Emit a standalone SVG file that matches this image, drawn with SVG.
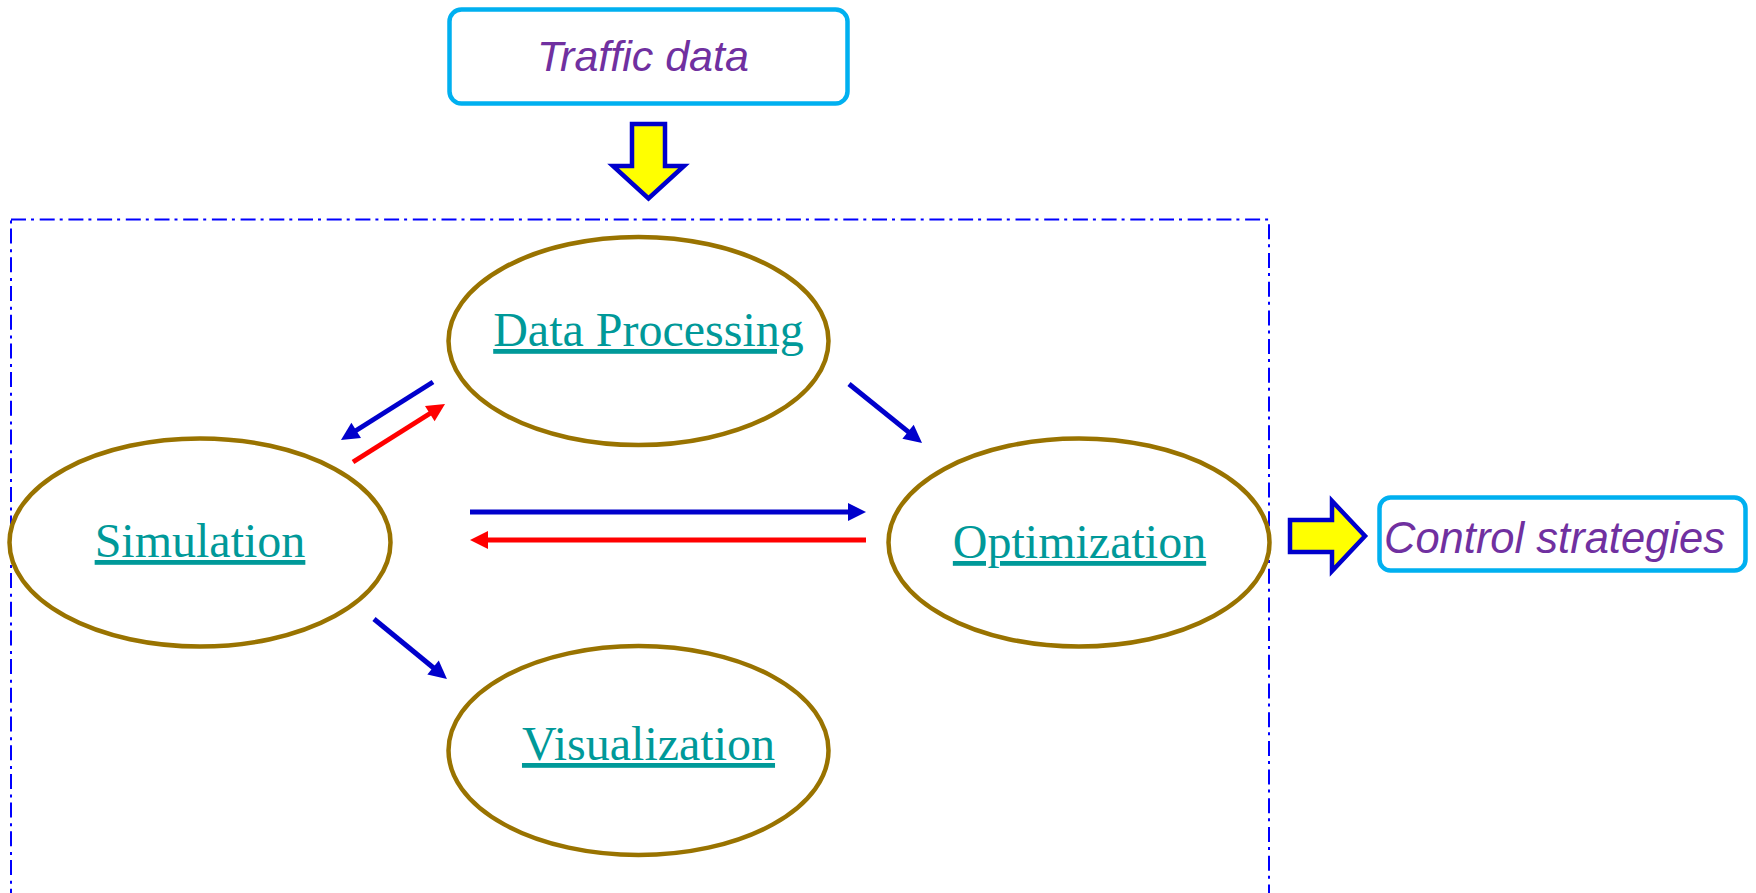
<svg xmlns="http://www.w3.org/2000/svg" width="1756" height="893" viewBox="0 0 1756 893">
  <style>
    .ell { fill: #FFFFFF; stroke: #997300; stroke-width: 4.5; }
    .lbl { font-family: "Liberation Serif", "Times New Roman", serif; font-size: 48px; fill: #009999; text-decoration: underline; text-anchor: middle; }
    .box { fill: #FFFFFF; stroke: #00B0F0; stroke-width: 4.5; }
    .io { font-family: "Liberation Sans", Arial, sans-serif; font-size: 43px; font-style: italic; fill: #7030A0; }
    .fat { fill: #FFFF00; stroke: #0000CC; stroke-width: 4.5; stroke-linejoin: miter; }
    .blue { stroke: #0000CC; stroke-width: 5; fill: none; marker-end: url(#hb); }
    .red { stroke: #FF0000; stroke-width: 5; fill: none; marker-end: url(#hr); }
  </style>
  <defs>
    <marker id="hb" markerUnits="userSpaceOnUse" markerWidth="18" markerHeight="18" refX="2" refY="9" orient="auto" overflow="visible">
      <path d="M0,0 L18,9 L0,18 Z" fill="#0000CC"/>
    </marker>
    <marker id="hr" markerUnits="userSpaceOnUse" markerWidth="18" markerHeight="18" refX="2" refY="9" orient="auto" overflow="visible">
      <path d="M0,0 L18,9 L0,18 Z" fill="#FF0000"/>
    </marker>
  </defs>
  <rect width="1756" height="893" fill="#FFFFFF"/>

  <g id="system-boundary">
    <rect x="11" y="219.5" width="1258" height="720" fill="none" stroke="#0000FF" stroke-width="2" stroke-dasharray="15 5 3 5.7"/>
  </g>

  <g id="traffic-data">
    <rect class="box" x="449.5" y="9.5" width="398" height="94" rx="12" ry="12"/>
    <text class="io" x="537" y="70.5">Traffic data</text>
  </g>

  <g id="input-arrow">
    <path class="fat" d="M632,124 L665,124 L665,166 L684,166 L648.5,198.5 L613,166 L632,166 Z"/>
  </g>

  <g id="data-processing">
    <ellipse class="ell" cx="638.5" cy="341" rx="190" ry="104"/>
    <text class="lbl" x="648.5" y="346">Data Processing</text>
  </g>

  <g id="simulation">
    <ellipse class="ell" cx="200" cy="542.5" rx="190.5" ry="104"/>
    <text class="lbl" x="200" y="557">Simulation</text>
  </g>

  <g id="optimization">
    <ellipse class="ell" cx="1079" cy="542.5" rx="190.5" ry="104"/>
    <text class="lbl" x="1079.5" y="558">Optimization</text>
  </g>

  <g id="visualization">
    <ellipse class="ell" cx="638.5" cy="750.5" rx="190" ry="104.5"/>
    <text class="lbl" x="648.5" y="760">Visualization</text>
  </g>

  <g id="output-arrow">
    <path class="fat" d="M1290,520 L1332,520 L1332,501 L1365,536 L1332,571 L1332,552 L1290,552 Z"/>
  </g>

  <g id="control-strategies">
    <rect class="box" x="1379.5" y="497.5" width="366" height="73" rx="11" ry="11"/>
    <text class="io" x="1384" y="552.5" style="font-size:43.5px">Control strategies</text>
  </g>

  <g id="connectors">
    <line class="blue" x1="433" y1="382" x2="354.5" y2="431.5"/>
    <line class="red" x1="353" y1="462" x2="431.5" y2="412.5"/>
    <line class="blue" x1="849" y1="384" x2="909.6" y2="432.9"/>
    <line class="blue" x1="470" y1="512" x2="850" y2="512"/>
    <line class="red" x1="866" y1="540" x2="486" y2="540"/>
    <line class="blue" x1="374" y1="619" x2="434.6" y2="668.8"/>
  </g>
</svg>
